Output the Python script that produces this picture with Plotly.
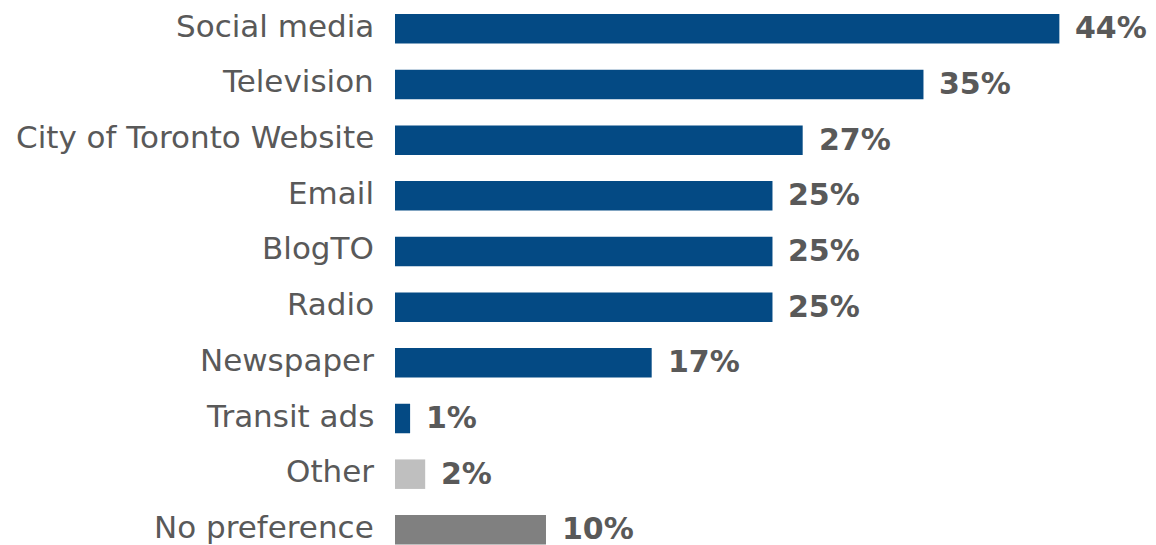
import plotly.graph_objects as go

# Preferred channels for receiving information (% of respondents)
categories = [
    "Social media", "Television", "City of Toronto Website", "Email", "BlogTO",
    "Radio", "Newspaper", "Transit ads", "Other", "No preference",
]
values = [44, 35, 27, 25, 25, 25, 17, 1, 2, 10]
value_labels = [f"{v}%" for v in values]

BLUE = "#044A84"
bar_colors = [BLUE] * 8 + ["#BFBFBF", "#808080"]
TEXT_GRAY = "#595959"
FONT = "DejaVu Sans"

fig = go.Figure(
    go.Bar(
        x=values,
        y=categories,
        orientation="h",
        marker=dict(color=bar_colors, line=dict(width=0)),
        width=0.53,
        hoverinfo="skip",
    )
)

# Category names to the left of the bars
for cat in categories:
    fig.add_annotation(
        x=0, y=cat, xref="x", text=cat, showarrow=False,
        xanchor="right", yanchor="middle", xshift=-20, yshift=3,
        font=dict(family=FONT, size=31, color=TEXT_GRAY),
        borderpad=0,
    )

# Percentage labels just past the bar ends
for cat, v, lab in zip(categories, values, value_labels):
    fig.add_annotation(
        x=v, y=cat, text=f"<b>{lab}</b>", showarrow=False,
        xanchor="left", yanchor="middle", xshift=15, yshift=1,
        font=dict(family=FONT, size=30, color=TEXT_GRAY),
        borderpad=0,
    )

fig.update_layout(
    width=1156, height=545,
    margin=dict(l=395, r=0, t=0, b=0),
    paper_bgcolor="white", plot_bgcolor="white",
    showlegend=False,
    xaxis=dict(range=[0, 50.4], visible=False, fixedrange=True),
    yaxis=dict(
        type="category",
        range=[9.272, -0.517],
        showgrid=False, zeroline=False, showline=False,
        showticklabels=False, fixedrange=True,
    ),
)

fig.write_html("out.html")
